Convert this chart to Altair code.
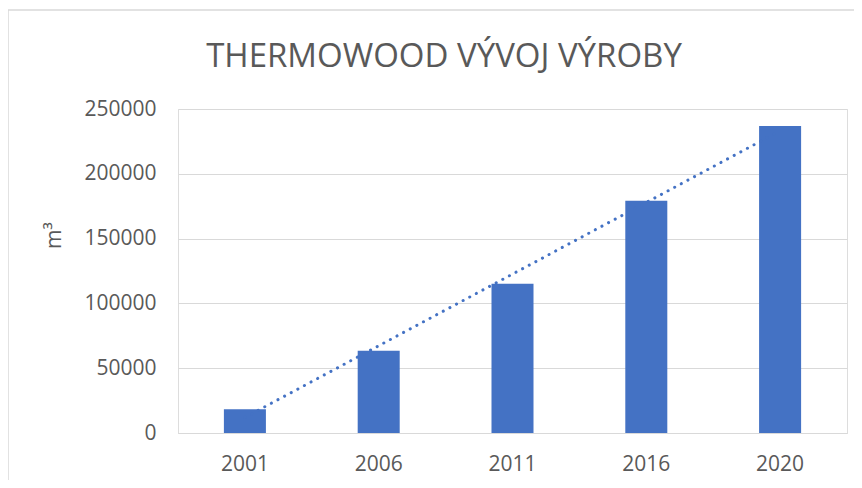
import altair as alt
import pandas as pd

years = ["2001", "2006", "2011", "2016", "2020"]
idx = [1, 2, 3, 4, 5]
values = [18300, 63500, 115200, 179200, 236900]
title_text = ["THERMOWOOD VÝVOJ VÝROBY"]

df = pd.DataFrame({"year": years, "idx": idx, "value": values})

FONT = "Open Sans"
GREY = "#595959"
BLUE = "#4472C4"

yscale = alt.Scale(domain=[0, 250000], nice=False, zero=True)
xscale = alt.Scale(paddingInner=0.686, paddingOuter=0.343)

xenc = alt.X(
    "year:N",
    sort=years,
    scale=xscale,
    axis=alt.Axis(
        title=None, labelAngle=0, ticks=False, domainColor="#d9d9d9",
        labelFontSize=21, labelColor=GREY, labelFont=FONT, labelPadding=20,
    ),
)
yenc = alt.Y(
    "value:Q",
    scale=yscale,
    axis=alt.Axis(
        title="m³", values=[0, 50000, 100000, 150000, 200000, 250000],
        format="d", domain=False, ticks=False, gridColor="#d9d9d9",
        labelFontSize=21, labelColor=GREY, labelFont=FONT, labelPadding=22,
        titleFontSize=21, titleColor=GREY, titleFont=FONT, titleFontWeight="normal",
        titleX=-114, titleY=126,
    ),
)

border = alt.Chart(df).transform_filter("datum.idx == 1").mark_rect(
    fill="white", fillOpacity=0, stroke="#d9d9d9", strokeWidth=1.5, clip=False
).encode(
    x=alt.value(-170), x2=alt.value(720), y=alt.value(-99), y2=alt.value(420)
)

title = alt.Chart(pd.DataFrame({"t": title_text})).mark_text(
    font=FONT, fontSize=33, color=GREY, align="center", baseline="alphabetic"
).encode(text="t:N", x=alt.value(266), y=alt.value(-42))

bars = alt.Chart(df).mark_bar(color=BLUE).encode(x=xenc, y=yenc)

trend = alt.Chart(df).transform_regression(
    "idx", "value", method="linear"
).transform_lookup(
    lookup="idx", from_=alt.LookupData(df, key="idx", fields=["year"])
).mark_line(
    color=BLUE, strokeWidth=3, strokeDash=[0.1, 7.4], strokeCap="round"
).encode(
    x=alt.X("year:N", sort=years, scale=xscale),
    y=alt.Y("value:Q", scale=yscale),
)

chart = alt.layer(border, bars, trend, title).properties(
    width=669,
    height=324,
    autosize=alt.AutoSizeParams(type="none"),
    padding={"left": 170, "top": 101, "right": 7, "bottom": 47},
).configure_view(stroke=None).configure(background="white")

chart.save("out.html", embed_options={"renderer": "svg", "actions": False})
